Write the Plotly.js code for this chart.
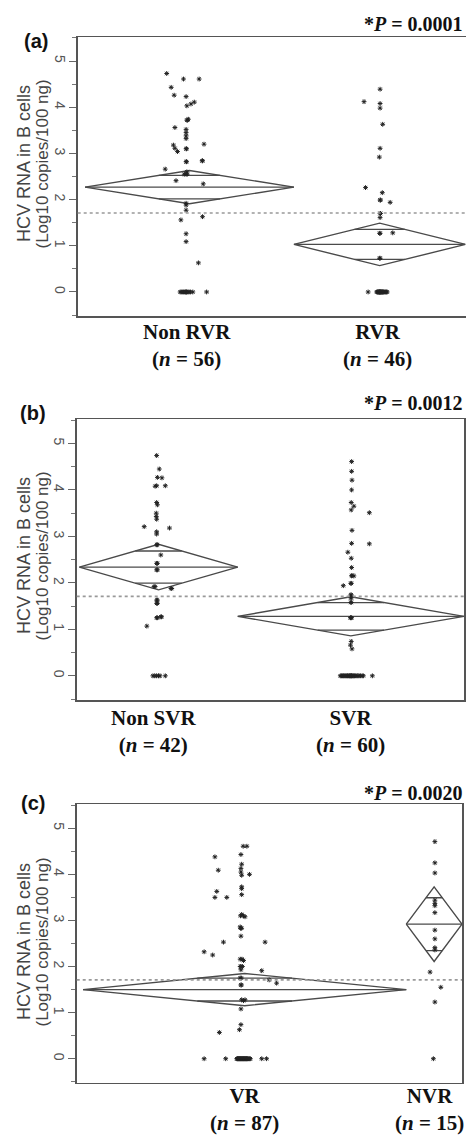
<!DOCTYPE html>
<html><head><meta charset="utf-8">
<script src="https://cdn.plot.ly/plotly-3.0.1.min.js"></script>
<style>html,body{margin:0;padding:0;background:#fff;}#chart{width:466px;height:1135px;}</style>
</head><body><div id="chart"></div>
<script>
// ---------- Panel (a) ----------
const catsA = ['Non RVR', 'RVR'];
const nA = [56, 46];
const meanA = [2.27, 1.03];
const ciHalfA = [0.36, 0.46];
const grandA = 1.71;
const pA = '0.0001';
const nonRvrVals = [4.73,4.61,4.61,4.43,4.26,4.23,4.03,4.07,4.11,
  3.72,3.74,3.56,3.52,3.45,3.38,3.32,
  3.18,3.11,3.04,3.20,3.10,
  2.84,2.82,2.66,2.55,2.55,2.60,2.41,2.34,
  1.92,1.88,1.77,1.56,1.63,1.26,1.09,0.63,
  3.72,3.10,2.55,2.82,2.84,
  0,0,0,0,0,0,0,0,0,0,0,0,0,0];
const nonRvrJit = [-6.1,-1.6,2.6,-4.9,-4.1,-0.9,-0.7,0.4,1.3,
  -0.7,-0.3,-3.9,-0.9,-0.9,-0.9,-0.9,
  -4.3,-3.9,-3.2,3.9,-0.9,
  3.5,-0.9,-6.5,-1.4,-0.9,-0.7,-3.6,3.7,
  -0.9,-0.9,-0.9,-2.3,3.5,-0.9,-0.9,2.4,
  -0.5,-0.8,-0.6,-0.8,3.4,
  -2.5,-2.2,-1.9,-1.6,-1.3,-1.0,-0.9,-0.9,-0.7,-0.4,-0.1,0.3,0.9,4.6];
const rvrVals = [4.39,4.12,4.08,3.98,3.63,3.11,2.92,2.26,2.15,1.99,1.94,1.70,1.61,1.27,1.28,0.73,0.73,1.70,1.27,1.99,
  0,0,0,0,0,0,0,0,0,0,0,0,0,0,0,0,0,0,0,0,0,0,0,0,0,0];
const rvrJit = [0.1,-4.2,0.1,0.1,0.8,0.1,-0.1,-3.8,0.7,0.1,2.8,0.1,0.1,0.1,3.5,0.1,0.0,0.2,0.0,0.2,
  -3.1,-0.8,-0.6,-0.5,-0.4,-0.3,-0.2,-0.1,0,0,0.1,0.1,0.2,0.3,0.4,0.5,0.6,0.7,0.8,0.9,1.0,1.2,1.4,1.6,1.8,2.0];

// ---------- Panel (b) ----------
const catsB = ['Non SVR', 'SVR'];
const nB = [42, 60];
const meanB = [2.34, 1.28];
const ciHalfB = [0.49, 0.42];
const grandB = 1.71;
const pB = '0.0012';
const nonSvrVals = [4.74,4.45,4.27,4.26,4.08,4.09,4.09,3.73,3.68,3.50,3.43,3.37,3.21,3.18,3.10,3.05,2.82,2.60,2.42,2.28,1.92,1.88,1.63,1.56,1.25,1.27,1.07,
  2.82,2.42,2.28,1.92,1.88,1.63,1.56,1.27,1.25,
  0,0,0,0,0,0];
const nonSvrJit = [-0.5,0.2,-0.3,0.9,-0.9,-0.5,1.8,-0.5,-0.3,-0.6,-0.6,-0.5,-3.8,2.9,-0.5,-0.5,-0.5,0.6,-0.5,-0.5,-1.2,3.5,-0.5,-0.5,-0.5,0.6,-3.1,
  -0.3,-0.3,-0.3,-0.9,3.3,-0.3,-0.3,0.8,-0.3,
  -1.5,-1.0,-0.5,0,0.4,1.8];
const svrVals = [4.61,4.40,4.21,4.00,3.73,3.65,3.57,3.51,3.13,2.85,2.84,2.66,2.53,2.33,2.16,2.15,1.99,1.94,1.74,1.68,1.58,1.25,0.74,0.66,0.58,
  1.74,1.68,1.58,1.99,2.15,1.25,1.25,
  0,0,0,0,0,0,0,0,0,0,0,0,0,0,0,0,0,0,0,0,0,0,0,0,0,0,0,0];
const svrJit = [0.2,0.2,0.3,0.2,0.1,0.8,0.1,4.9,0.3,0.2,4.9,-0.8,0.1,0.2,0.3,0.8,0.1,-2.0,0.1,0.1,0.1,-0.1,0.1,-0.1,0.3,
  0.0,0.0,0.0,0.0,0.2,0.0,0.2,
  -2.8,-2.5,-2.2,-2.0,-1.8,-1.5,-1.3,-1.1,-0.9,-0.7,-0.5,-0.3,-0.2,0,0.1,0.2,0.4,0.6,0.8,1.0,1.3,1.6,1.9,2.2,2.6,3.0,3.3,5.7];

// ---------- Panel (c) ----------
const catsC = ['VR', 'NVR'];
const nC = [87, 15];
const meanC = [1.50, 2.92];
const ciHalfC = [0.35, 0.81];
const grandC = 1.71;
const pC = '0.0020';
const vrVals = [4.61,4.61,4.43,4.38,4.22,4.13,4.09,4.05,3.98,4.00,3.73,3.69,3.63,3.50,3.50,3.56,3.13,3.10,3.08,2.86,2.83,2.66,2.53,2.53,2.32,2.25,2.16,2.13,2.00,1.93,1.91,1.75,1.71,1.64,1.60,1.28,1.26,1.08,0.74,0.63,0.57,
  1.75,1.60,2.00,2.16,1.28,3.10,2.83,2.00,
  0,0,0,0,0,0,0,0,0,0,0,0,0,0,0,0,0,0,0,0,0,0,0,0,0,0,0,0,0,0,0,0,0,0,0,0,0,0];
const vrJit = [-0.4,0.6,-1.0,-8.0,-0.8,-1.0,-7.1,-1.0,-0.8,1.3,-0.8,-0.8,-7.5,-8.0,-4.8,-0.8,-0.8,-0.3,0.1,-1.2,-0.8,-1.0,-5.7,5.5,-10.9,-8.6,-1.2,-0.3,-1.0,-1.0,4.6,-1.2,6.6,8.6,-1.0,0.1,-0.3,-1.0,-1.0,-1.4,-6.8,
  -0.9,-0.9,-0.6,-0.7,-0.8,-1.1,-1.1,-1.2,
  -10.9,-5.1,4.6,5.9,-2.1,-2.0,-1.9,-1.8,-1.7,-1.6,-1.5,-1.4,-1.3,-1.2,-1.1,-1.0,-0.9,-0.8,-0.7,-0.6,-0.5,-0.4,-0.3,-0.2,-0.1,0,0.1,0.2,0.3,0.4,0.5,0.6,0.7,0.8,1.0,1.2,1.4,1.5];
const nvrVals = [4.71,4.25,4.03,3.44,3.37,3.32,3.17,2.79,2.60,2.41,2.36,1.88,1.55,1.23,0];
const nvrJit = [0.2,0.2,0.2,0.2,0.2,0.2,0.2,0.2,0.2,0.2,0.2,-1.1,1.8,0.2,-0.2];

const panelLabels = ['(a)', '(b)', '(c)'];
const yTitle1 = 'HCV RNA in B cells';
const yTitle2 = '(Log10 copies/100 ng)';

// ---------- geometry (pixels) ----------
const W = 466, H = 1135;
const px = v => v / W;
const py = v => 1 - v / H;
const geo = [
  {l: 77.7, r: 465.5, t: 37, b: 316, xr: [-1.96, 102], titleY: 164, catY: 345.5, catShift: [-2, -2], pY: 24, labX: 35.5, labY: 41},
  {l: 76.7, r: 464, t: 419.3, b: 700, xr: [-0.7, 102], titleY: 556, catY: 731.5, catShift: [-5, 0], pY: 403, labX: 32.5, labY: 412.5},
  {l: 76.7, r: 462, t: 804.3, b: 1082.7, xr: [-1.7, 102], titleY: 942, catY: 1109.5, catShift: [0, -5], pY: 793, labX: 32.5, labY: 802.7}
];

const panels = [
  {cats: catsA, ns: nA, means: meanA, halves: ciHalfA, grand: grandA, p: pA, vals: [nonRvrVals, rvrVals], jit: [nonRvrJit, rvrJit]},
  {cats: catsB, ns: nB, means: meanB, halves: ciHalfB, grand: grandB, p: pB, vals: [nonSvrVals, svrVals], jit: [nonSvrJit, svrJit]},
  {cats: catsC, ns: nC, means: meanC, halves: ciHalfC, grand: grandC, p: pC, vals: [vrVals, nvrVals], jit: [vrJit, nvrJit]}
];

const lineCol = '#4a4a4a';
const traces = [];
const layout = {
  width: W, height: H, margin: {l: 0, r: 0, t: 0, b: 0},
  paper_bgcolor: '#fff', plot_bgcolor: '#fff', showlegend: false,
  shapes: [], annotations: []
};

panels.forEach((P, i) => {
  const g = geo[i];
  const sfx = i === 0 ? '' : String(i + 1);
  const xa = 'x' + sfx, ya = 'y' + sfx;
  layout['xaxis' + sfx] = {
    domain: [px(g.l), px(g.r)], range: g.xr, anchor: ya,
    showline: true, mirror: true, linecolor: '#555', linewidth: 1.5,
    showticklabels: false, ticks: '', showgrid: false, zeroline: false, fixedrange: true
  };
  layout['yaxis' + sfx] = {
    domain: [py(g.b), py(g.t)], range: [-0.52, 5.52], anchor: xa,
    tickmode: 'linear', tick0: 0, dtick: 1,
    ticks: 'outside', ticklen: 7, tickwidth: 1, tickcolor: '#666',
    ticklabelstandoff: -3,
    tickangle: 90, tickfont: {family: 'Liberation Sans, Arial, sans-serif', size: 14, color: '#555'},
    minor: {ticks: 'outside', ticklen: 4, tickwidth: 1, tickcolor: '#777', tickmode: 'linear', tick0: 0, dtick: 0.5},
    showline: true, mirror: true, linecolor: '#555', linewidth: 1.5,
    showgrid: false, zeroline: false, fixedrange: true
  };

  // grand mean line
  layout.shapes.push({type: 'line', xref: xa + ' domain', yref: ya, x0: 0, x1: 1, y0: P.grand, y1: P.grand,
    line: {color: '#999', width: 1.6, dash: 'dot'}});

  let left = 0;
  P.cats.forEach((c, k) => {
    const n = P.ns[k], m = P.means[k], h = P.halves[k];
    const L = left, R = left + n, C = left + n / 2;
    // diamond
    traces.push({type: 'scatter', mode: 'lines', xaxis: xa, yaxis: ya, hoverinfo: 'skip',
      x: [L, C, R, C, L], y: [m, m + h, m, m - h, m], line: {color: lineCol, width: 1.4}});
    // mean line + overlap marks
    const k2 = h / Math.SQRT2;
    const hw = (n / 2) * (1 - 1 / Math.SQRT2);
    traces.push({type: 'scatter', mode: 'lines', xaxis: xa, yaxis: ya, hoverinfo: 'skip',
      x: [L, R, null, C - hw, C + hw, null, C - hw, C + hw],
      y: [m, m, null, m + k2, m + k2, null, m - k2, m - k2],
      line: {color: lineCol, width: 1.3}});
    // points
    traces.push({type: 'scatter', mode: 'markers', xaxis: xa, yaxis: ya,
      x: P.jit[k].map(j => C + j), y: P.vals[k],
      marker: {symbol: 'asterisk-open', size: 4, color: '#222', line: {width: 1, color: '#222'}}});
    // category label
    layout.annotations.push({xref: xa, yref: 'paper', x: C, y: py(g.catY), xshift: g.catShift[k],
      xanchor: 'center', yanchor: 'middle',
      showarrow: false, text: '<b>' + c + '</b><br><b>(<i>n</i> = ' + n + ')</b>',
      font: {family: 'Liberation Serif, Times New Roman, serif', size: 21, color: '#111'}});
    left = R;
  });

  // y title (two lines)
  layout.annotations.push({xref: 'paper', yref: 'paper', x: px(24), y: py(g.titleY), textangle: -90,
    xanchor: 'center', yanchor: 'middle', showarrow: false, text: yTitle1,
    font: {family: 'Liberation Sans, Arial, sans-serif', size: 18, color: '#444'}});
  layout.annotations.push({xref: 'paper', yref: 'paper', x: px(41.5), y: py(g.titleY), textangle: -90,
    xanchor: 'center', yanchor: 'middle', showarrow: false, text: yTitle2,
    font: {family: 'Liberation Sans, Arial, sans-serif', size: 17, color: '#444'}});
  // panel label
  layout.annotations.push({xref: 'paper', yref: 'paper', x: px(g.labX), y: py(g.labY), xanchor: 'center', yanchor: 'middle',
    showarrow: false, text: '<b>' + panelLabels[i] + '</b>',
    font: {family: 'Liberation Sans, Arial, sans-serif', size: 20, color: '#111'}});
  // p value
  layout.annotations.push({xref: 'paper', yref: 'paper', x: px(465), y: py(g.pY), xanchor: 'right', yanchor: 'middle',
    showarrow: false, text: '<b>*<i>P</i> = ' + P.p + '</b>',
    font: {family: 'Liberation Serif, Times New Roman, serif', size: 20, color: '#111'}});
});

Plotly.newPlot('chart', traces, layout, {staticPlot: true, displayModeBar: false});
</script>
</body></html>
